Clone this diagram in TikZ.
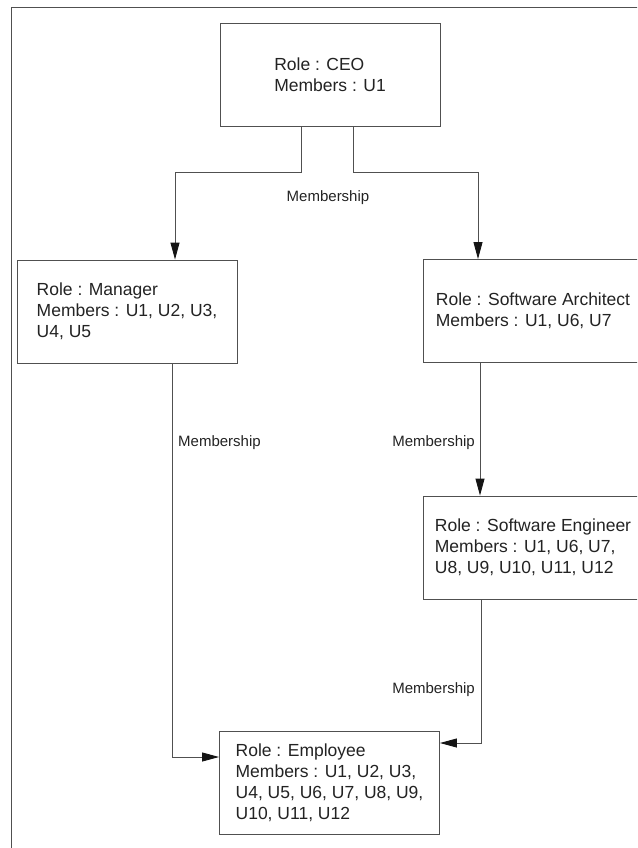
\documentclass[tikz,border=0pt]{standalone}
\usepackage{fontspec}
\setmainfont{Liberation Sans}
\usetikzlibrary{arrows.meta}

\definecolor{inkline}{RGB}{80,80,80}
\definecolor{inktext}{RGB}{35,35,35}
\definecolor{inktip}{RGB}{20,20,20}

\tikzset{
  rolebox/.style={draw=inkline, line width=0.9pt, fill=white,
    minimum width=220pt, minimum height=103pt, inner sep=0pt,
    align=left, text=inktext, font=\fontsize{17.5}{21}\selectfont},
  conn/.style={draw=inkline, line width=0.9pt,
    -{Triangle[length=17pt,width=9pt,color=inktip]}},
  edgelabel/.style={text=inktext, inner sep=0pt,
    font=\fontsize{15}{18}\selectfont},
  frameline/.style={draw=inkline, line width=0.8pt}
}

\begin{document}
\begin{tikzpicture}[x=1pt, y=-1pt]
  \useasboundingbox (0,0) rectangle (637,848);
  \clip (0,0) rectangle (637,848);

  % page frame (top and left edges)
  \draw[frameline] (11,860) -- (11,7) -- (660,7);

  % roles
  \node[rolebox] (ceo) at (330,74.5) {Role : CEO\\Members : U1};
  \node[rolebox] (mgr) at (127,311.5) {Role : Manager\\Members : U1, U2, U3,\\U4, U5};
  \node[rolebox] (sa)  at (533,311) {Role : Software Architect\\Members : U1, U6, U7};
  \node[rolebox] (se)  at (533,547.5) {Role : Software Engineer\\Members : U1, U6, U7,\\U8, U9, U10, U11, U12};
  \node[rolebox] (emp) at (329.5,783) {Role : Employee\\Members : U1, U2, U3,\\U4, U5, U6, U7, U8, U9,\\U10, U11, U12};

  % level where the CEO connectors split
  \coordinate (split) at (0,172);

  % CEO -> Manager and Software Architect
  \draw[conn] ([xshift=-29pt]ceo.south) -- ([xshift=-29pt]ceo.south |- split)
              -| ([xshift=48pt]mgr.north);
  \draw[conn] ([xshift=23pt]ceo.south) -- ([xshift=23pt]ceo.south |- split)
              -| ([xshift=-55pt]sa.north);
  \node[edgelabel] (l1) at (328,198) {Membership};

  % Manager -> Employee
  \draw[conn] ([xshift=45pt]mgr.south) |- ([yshift=26pt]emp.west);
  \node[edgelabel, anchor=west] (l2) at (178,443) {Membership};

  % Software Architect -> Software Engineer
  \draw[conn] ([xshift=-53pt]sa.south) -- ([xshift=-53pt]se.north);
  \node[edgelabel, anchor=east] (l3) at (475,443) {Membership};

  % Software Engineer -> Employee
  \draw[conn] ([xshift=-52pt]se.south) |- ([yshift=40pt]emp.east);
  \node[edgelabel, anchor=east] (l4) at (475,690) {Membership};
\end{tikzpicture}
\end{document}
